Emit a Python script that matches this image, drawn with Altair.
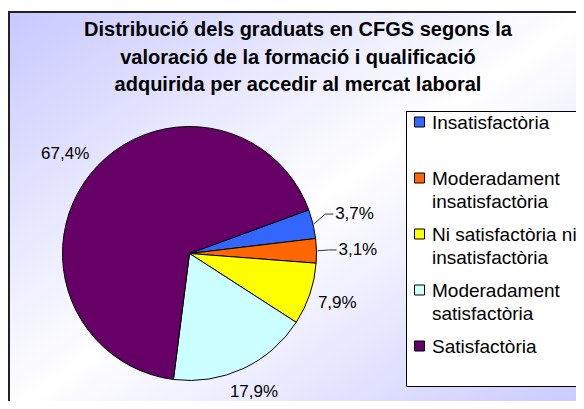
import math
import altair as alt
import pandas as pd

# ---------------- data ----------------
categories = [
    "Insatisfactòria",
    "Moderadament insatisfactòria",
    "Ni satisfactòria ni insatisfactòria",
    "Moderadament satisfactòria",
    "Satisfactòria",
]
legend_text = [
    "Insatisfactòria",
    "Moderadament\ninsatisfactòria",
    "Ni satisfactòria ni\ninsatisfactòria",
    "Moderadament\nsatisfactòria",
    "Satisfactòria",
]
values = [3.7, 3.1, 7.9, 17.9, 67.4]
value_labels = ["3,7%", "3,1%", "7,9%", "17,9%", "67,4%"]
colors = ["#3366FF", "#FF6600", "#FFFF00", "#CCFFFF", "#660066"]
title_lines = [
    "Distribució dels graduats en CFGS segons la",
    "valoració de la formació i qualificació",
    "adquirida per accedir al mercat laboral",
]

# ---------------- layout (chart coordinates) ----------------
W, H = 568, 393
FONT = "Liberation Sans"
CX, CY, R = 181.5, 245.5, 127
A0 = math.radians(69.9)
CHW = 9.6   # approx char width of labels
LH = 17     # label height

df = pd.DataFrame({
    "idx": list(range(len(categories))),
    "cat": categories,
    "legend": legend_text,
    "value": values,
    "label": value_labels,
})
tdf = pd.DataFrame({"idx": list(range(len(title_lines))), "line": title_lines})

color_scale = alt.Scale(domain=categories, range=colors)

one = pd.DataFrame({"a": [0]})

# background frame with gradient
grad = alt.LinearGradient(
    gradient="linear",
    stops=[
        alt.GradientStop(offset=0, color="#C8C8FF"),
        alt.GradientStop(offset=0.5, color="#FFFFFF"),
        alt.GradientStop(offset=1, color="#C8C8FF"),
    ],
    x1=0, y1=0, x2=1, y2=1,
)
bg = alt.Chart(one).mark_rect(fill=grad, stroke="#222222", strokeWidth=2).encode(
    x=alt.value(1), x2=alt.value(582), y=alt.value(4), y2=alt.value(405)
)

# title
title = alt.Chart(tdf).transform_calculate(
    ty="22 + datum.idx * 27.5"
).mark_text(
    font=FONT, fontSize=20, fontWeight="bold", align="center", baseline="middle", color="black"
).encode(
    x=alt.value(290), y=alt.Y("ty:Q", scale=None), text="line:N"
)

# pie
pie = alt.Chart(df).mark_arc(radius=R, stroke="black", strokeWidth=1).encode(
    theta=alt.Theta("value:Q", stack=True, scale=alt.Scale(range=[A0, A0 + 2 * math.pi])),
    color=alt.Color("cat:N", scale=color_scale, legend=None),
    order=alt.Order("idx:Q"),
    x=alt.value(CX),
    y=alt.value(CY),
)

base_lab = alt.Chart(df).transform_joinaggregate(
    total="sum(value)"
).transform_window(
    cum="sum(value)", sort=[alt.SortField("idx")], frame=[None, 0]
).transform_calculate(
    mid=f"{A0} + 2*PI*(datum.cum - datum.value/2)/datum.total",
    w=f"length(datum.label)*{CHW}",
    small="datum.value < 5",
).transform_calculate(
    rl=f"{R} + (datum.small ? 22 : 8) + abs(sin(datum.mid))*datum.w/2 + abs(cos(datum.mid))*{LH}/2"
).transform_calculate(
    lx=f"{CX} + datum.rl*sin(datum.mid)",
    ly=f"{CY} - datum.rl*cos(datum.mid)",
    ex=f"{CX} + {R + 1}*sin(datum.mid)",
    ey=f"{CY} - {R + 1}*cos(datum.mid)",
).transform_calculate(
    kx="datum.lx - datum.w/2 - 10",
    k2x="datum.lx - datum.w/2 - 2",
)

labels = base_lab.mark_text(
    font=FONT, fontSize=17, align="center", baseline="middle", color="black"
).encode(
    x=alt.X("lx:Q", scale=None), y=alt.Y("ly:Q", scale=None), text="label:N"
)

lead1 = base_lab.transform_filter("datum.small").mark_rule(color="#333333", strokeWidth=1).encode(
    x=alt.X("ex:Q", scale=None), y=alt.Y("ey:Q", scale=None),
    x2="kx:Q", y2="ly:Q",
)
lead2 = base_lab.transform_filter("datum.small").mark_rule(color="#333333", strokeWidth=1).encode(
    x=alt.X("kx:Q", scale=None), y=alt.Y("ly:Q", scale=None),
    x2="k2x:Q", y2="ly:Q",
)

# legend
leg_box = alt.Chart(one).mark_rect(fill="white", stroke="black", strokeWidth=1).encode(
    x=alt.value(398.5), x2=alt.value(640), y=alt.value(103.5), y2=alt.value(378.5)
)
leg_base = alt.Chart(df).transform_calculate(
    sy="114 + datum.idx * 56",
    ty="114 + datum.idx * 56 + 6.5",
)
leg_sym = leg_base.mark_square(size=100, stroke="black", strokeWidth=1, opacity=1).encode(
    x=alt.value(411.5), y=alt.Y("sy:Q", scale=None),
    color=alt.Color("cat:N", scale=color_scale, legend=None),
)
leg_txt = leg_base.mark_text(
    font=FONT, fontSize=19, align="left", baseline="alphabetic", lineBreak="\n",
    lineHeight=23.5, color="black"
).encode(
    x=alt.value(424), y=alt.Y("ty:Q", scale=None), text="legend:N"
)

chart = alt.layer(
    bg, title, pie, lead1, lead2, labels, leg_box, leg_sym, leg_txt
).properties(
    width=W, height=H, padding=0, autosize=alt.AutoSizeParams(type="none"),
    background="white",
).configure_view(stroke=None)

chart.save("out.html", embed_options={"renderer": "svg", "actions": False})
